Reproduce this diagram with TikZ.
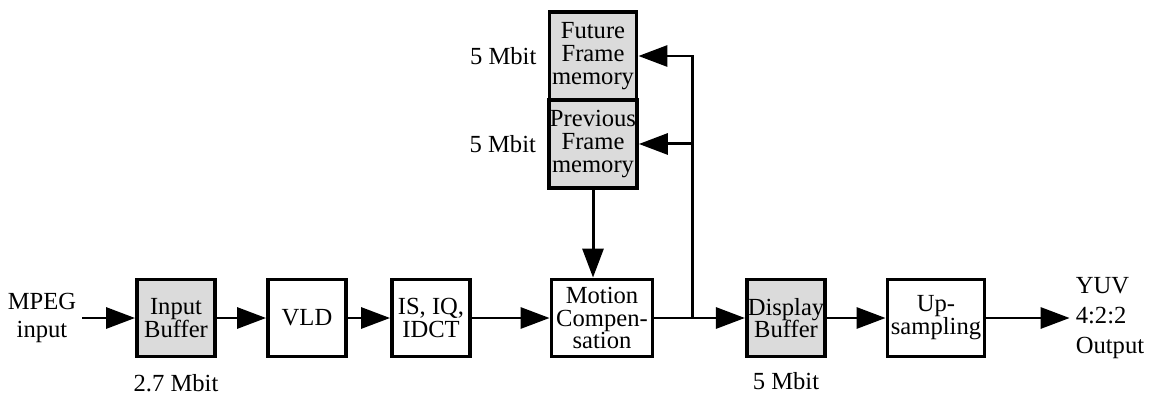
\documentclass[tikz,border=0pt]{standalone}
\usepackage{fontspec}
\setmainfont{Liberation Serif}
\usetikzlibrary{arrows.meta,positioning}
\tikzset{
  flow/.style={-{Triangle[length=0.58cm, width=0.42cm]}, line width=1.7pt},
  blk/.style={draw, line width=2.2pt, fill=white, minimum width=1.56cm, minimum height=1.54cm, inner sep=0.5pt, align=center, font=\fontsize{14}{13}\selectfont},
  buf/.style={blk, fill=black!14},
  mem/.style={buf, minimum width=1.74cm, minimum height=1.76cm},
  lbl/.style={font=\fontsize{14}{16}\selectfont, align=center},
}

\begin{document}
\begin{tikzpicture}[x=0.02cm,y=-0.02cm]
\useasboundingbox (0,0) rectangle (1149,396);
% main chain
\node[buf] (inbuf) at (176,318) {Input\\Buffer};
\node[blk] (vld) at (307,318) {VLD};
\node[blk] (idct) at (431,318) {IS, IQ,\\IDCT};
\node[blk, minimum width=2.02cm] (mc) at (602,318) {Motion\\Compen-\\sation};
\node[buf] (dispbuf) at (786,318) {Display\\Buffer};
\node[blk, minimum width=1.94cm] (upsamp) at (936,318) {Up-\\sampling};
% frame memories
\node[mem] (futmem) at (593,56) {Future\\Frame\\memory};
\node[mem, below=-2.2pt of futmem] (prevmem) {Previous\\Frame\\memory};
% labels
\node[lbl] (mpeg) at (42,318) {MPEG\\input};
\node[lbl, align=left, font=\fontsize{14}{17}\selectfont] (yuv) at (1110,318) {YUV\\4:2:2\\Output};
\node[lbl] (inmb) at (176,383) {2.7 Mbit};
\node[lbl] (dispmb) at (786,381) {5 Mbit};
\node[lbl, left=0.1cm of futmem] (futmb) {5 Mbit};
\node[lbl, left=0.1cm of prevmem] (prevmb) {5 Mbit};
% connections
\coordinate (split) at (692,318);
\draw[flow] (mpeg) -- (inbuf);
\draw[flow] (inbuf) -- (vld);
\draw[flow] (vld) -- (idct);
\draw[flow] (idct) -- (mc);
\draw[flow] (mc) -- (dispbuf);
\draw[flow] (dispbuf) -- (upsamp);
\draw[flow] (upsamp) -- (yuv);
\draw[flow] (prevmem) -- (prevmem |- mc.north);
\draw[flow] (split) |- (futmem.east);
\draw[flow] (split |- prevmem.east) -- (prevmem.east);
\end{tikzpicture}
\end{document}
